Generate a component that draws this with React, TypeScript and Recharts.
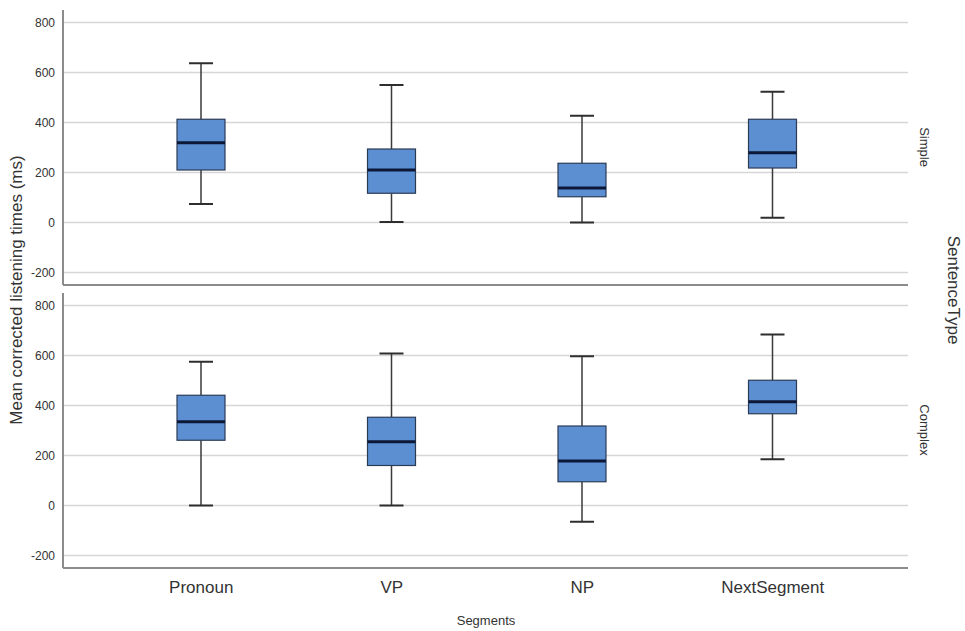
import React from 'react';
import { ComposedChart, Bar, XAxis, YAxis, CartesianGrid } from 'recharts';

const categories = ['Pronoun', 'VP', 'NP', 'NextSegment'];
const yTicks = [-200, 0, 200, 400, 600, 800];

// SentenceType = Simple
const simpleMin = [74, 2, 0, 19];
const simpleQ1 = [210, 117, 103, 218];
const simpleMedian = [319, 210, 138, 279];
const simpleQ3 = [413, 294, 237, 413];
const simpleMax = [637, 550, 427, 523];

// SentenceType = Complex
const complexMin = [0, 0, -65, 185];
const complexQ1 = [261, 160, 95, 367];
const complexMedian = [335, 255, 178, 415];
const complexQ3 = [441, 353, 318, 501];
const complexMax = [575, 608, 597, 684];

type Row = { segment: string; min: number; q1: number; median: number; q3: number; max: number };

const buildRows = (mn: number[], q1: number[], md: number[], q3: number[], mx: number[]): Row[] =>
  categories.map((c, i) => ({ segment: c, min: mn[i], q1: q1[i], median: md[i], q3: q3[i], max: mx[i] }));

const simpleData = buildRows(simpleMin, simpleQ1, simpleMedian, simpleQ3, simpleMax);
const complexData = buildRows(complexMin, complexQ1, complexMedian, complexQ3, complexMax);

const font = '"Liberation Sans", Arial, sans-serif';
const axisColor = '#8c8c8c';
const gridColor = '#d6d6d6';

// the bar spans min..max, box and whiskers are placed inside it
const BoxShape = (props: any) => {
  const { x, y, width, height, payload } = props;
  if (!payload) return null;
  const top = Math.min(y, y + height);
  const bot = Math.max(y, y + height);
  const span = payload.max - payload.min || 1;
  const py = (v: number) => top + ((payload.max - v) / span) * (bot - top);
  const cx = x + width / 2;
  const cap = width / 4;
  return (
    <g>
      <line x1={cx} x2={cx} y1={py(payload.max)} y2={py(payload.q3)} stroke="#3a3a3a" strokeWidth={1.5} />
      <line x1={cx} x2={cx} y1={py(payload.q1)} y2={py(payload.min)} stroke="#3a3a3a" strokeWidth={1.5} />
      <line x1={cx - cap} x2={cx + cap} y1={py(payload.max)} y2={py(payload.max)} stroke="#2e2e2e" strokeWidth={2} />
      <line x1={cx - cap} x2={cx + cap} y1={py(payload.min)} y2={py(payload.min)} stroke="#2e2e2e" strokeWidth={2} />
      <rect
        x={x}
        y={py(payload.q3)}
        width={width}
        height={py(payload.q1) - py(payload.q3)}
        fill="#5b8fd1"
        stroke="#2c3b55"
        strokeWidth={1.2}
      />
      <line x1={x} x2={x + width} y1={py(payload.median)} y2={py(payload.median)} stroke="#0c1838" strokeWidth={3} />
    </g>
  );
};

const Panel = ({ data, bottom }: { data: Row[]; bottom: boolean }) => (
  <ComposedChart
    width={965}
    height={bottom ? 343 : 290}
    data={data}
    margin={bottom ? { top: 5, right: 57, left: 0, bottom: 23 } : { top: 10, right: 57, left: 0, bottom: 4 }}
  >
    <CartesianGrid vertical={false} horizontal syncWithTicks stroke={gridColor} strokeWidth={1.5} />
    <XAxis
      dataKey="segment"
      padding={{ left: 43, right: 40 }}
      height={bottom ? 40 : 1}
      tick={bottom ? { fontSize: 17, fill: '#333', fontFamily: font } : false}
      tickLine={false}
      tickMargin={7}
      axisLine={{ stroke: axisColor, strokeWidth: 2 }}
    />
    <YAxis
      width={63}
      domain={[-250, 850]}
      ticks={yTicks}
      allowDataOverflow
      tickLine={false}
      axisLine={{ stroke: axisColor, strokeWidth: 2 }}
      tick={{ fontSize: 12, fill: '#333', fontFamily: font }}
    />
    <Bar
      dataKey={(d: Row) => [d.min, d.max]}
      barSize={48}
      shape={<BoxShape />}
      isAnimationActive={false}
    />
  </ComposedChart>
);

export default function App() {
  return (
    <div style={{ position: 'absolute', left: 0, top: 0, width: 965, height: 631, background: '#fff' }}>
      <div style={{ position: 'absolute', left: 0, top: 0 }}>
        <Panel data={simpleData} bottom={false} />
      </div>
      <div style={{ position: 'absolute', left: 0, top: 288 }}>
        <Panel data={complexData} bottom={true} />
      </div>
      <svg width={965} height={631} style={{ position: 'absolute', left: 0, top: 0, pointerEvents: 'none' }}>
        <text
          transform="translate(22,290) rotate(-90)"
          textAnchor="middle"
          fontSize={17}
          fill="#333"
          fontFamily={font}
        >
          Mean corrected listening times (ms)
        </text>
        <text transform="translate(920,147) rotate(90)" textAnchor="middle" fontSize={13} fill="#333" fontFamily={font}>
          Simple
        </text>
        <text transform="translate(920,430) rotate(90)" textAnchor="middle" fontSize={13} fill="#333" fontFamily={font}>
          Complex
        </text>
        <text transform="translate(948,290) rotate(90)" textAnchor="middle" fontSize={17} fill="#333" fontFamily={font}>
          SentenceType
        </text>
        <text x={486} y={625} textAnchor="middle" fontSize={13} fill="#333" fontFamily={font}>
          Segments
        </text>
      </svg>
    </div>
  );
}
